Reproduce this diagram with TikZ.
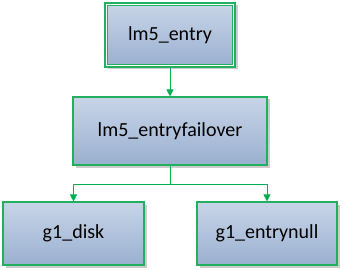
\documentclass[tikz,border=0pt]{standalone}
\usepackage{fontspec}
\setmainfont{Carlito}
\usetikzlibrary{shadows,arrows.meta}
\definecolor{bordergreen}{HTML}{22B060}
\definecolor{linegreen}{HTML}{00B050}
\definecolor{topblue}{HTML}{C8D5E8}
\definecolor{botblue}{HTML}{9AB0D0}
\tikzset{
  box/.style={draw=bordergreen, line width=1.1pt, top color=topblue, bottom color=botblue,
    drop shadow={shadow xshift=2.5pt, shadow yshift=-2.5pt, fill=black!40, opacity=0.5},
    font=\fontsize{20}{24}\selectfont, inner sep=0pt},
  conn/.style={draw=linegreen, line width=1pt},
  arr/.style={conn, -{Triangle[length=7pt,width=7pt]}}
}
\begin{document}
\begin{tikzpicture}[x=1pt,y=-1pt]
\useasboundingbox (0,0) rectangle (343,270);
\node[box, minimum width=130pt, minimum height=64pt] (a) at (170,35) {lm5\_entry};
\draw[draw=white, line width=1.2pt] ([shift={(1.7pt,-1.7pt)}]a.north west) rectangle ([shift={(-1.7pt,1.7pt)}]a.south east);
\draw[draw=bordergreen, line width=0.9pt] ([shift={(3.1pt,-3.1pt)}]a.north west) rectangle ([shift={(-3.1pt,3.1pt)}]a.south east);
\node[box, minimum width=194pt, minimum height=68pt] (b) at (170,131) {lm5\_entryfailover};
\node[box, minimum width=141pt, minimum height=63pt] (c) at (73.5,233.5) {g1\_disk};
\node[box, minimum width=140pt, minimum height=63pt] (d) at (267,233.5) {g1\_entrynull};
\coordinate (j) at (170,184);
\draw[arr] (a.south) -- (b.north);
\draw[conn] (b.south) -- (j);
\draw[arr] (j) -| (c.north);
\draw[arr] (j) -| (d.north);
\end{tikzpicture}
\end{document}
